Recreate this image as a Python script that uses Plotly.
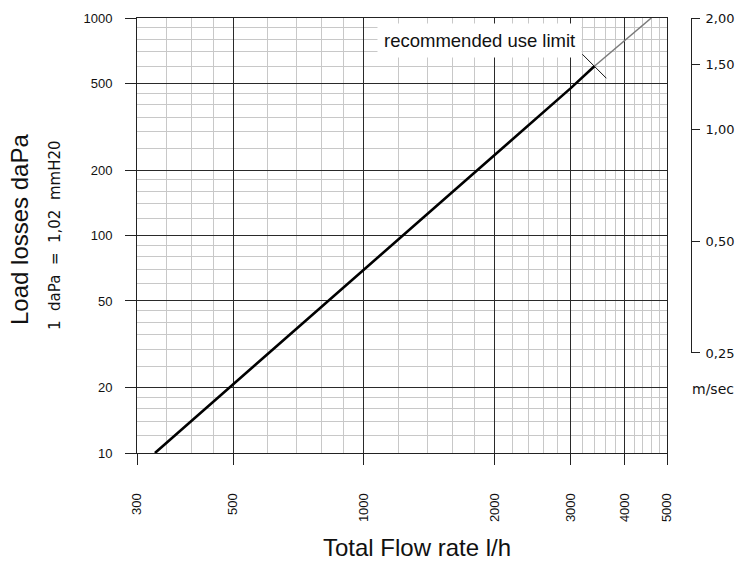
import math
import plotly.graph_objects as go

# ---- data ----
flow_recommended = [330, 500, 1000, 2000, 3000, 3400]      # l/h
loss_recommended = [10, 20.7, 70, 234, 476, 600]           # daPa
flow_beyond = [3400, 4600]
loss_beyond = [600, 1000]
limit_flow = [3400]
limit_loss = [600]

x_major_ticks = [300, 500, 1000, 2000, 3000, 4000, 5000]
x_major_text = ["300", "500", "1000", "2000", "3000", "4000", "5000"]
x_minor_ticks = [350, 400, 450, 600, 700, 800, 900, 1200, 1400, 1600, 1800,
                 2200, 2400, 2600, 2800, 3200, 3400, 3600, 3800,
                 4200, 4400, 4600, 4800]
y_major_ticks = [10, 20, 50, 100, 200, 500, 1000]
y_major_text = ["10", "20", "50", "100", "200", "500", "1000"]
y_minor_ticks = [12, 14, 16, 18, 25, 30, 35, 40, 45, 60, 70, 80, 90,
                 120, 140, 160, 180, 250, 300, 350, 400, 450,
                 600, 700, 800, 900]
velocity_ticks = [0.25, 0.5, 1.0, 1.5, 2.0]
velocity_text = ["0,25", "0,50", "1,00", "1,50", "2,00"]

MAIN = "Liberation Sans, Arial, sans-serif"
TECH = "DejaVu Sans, sans-serif"
DARK = "#222222"
MINOR = "#c8c8c8"
X_DOMAIN = [0, 530 / 554]

fig = go.Figure()
fig.add_trace(go.Scatter(x=flow_beyond, y=loss_beyond, mode="lines",
                         line=dict(color="#7a7a7a", width=1.5),
                         hoverinfo="skip", showlegend=False))
fig.add_trace(go.Scatter(x=flow_recommended, y=loss_recommended, mode="lines",
                         line=dict(color="#000000", width=2.6),
                         hoverinfo="skip", showlegend=False))
fig.add_trace(go.Scatter(x=limit_flow, y=limit_loss, mode="markers",
                         marker=dict(symbol="line-nw-open", size=24,
                                     color="#111111",
                                     line=dict(color="#111111", width=1)),
                         hoverinfo="skip", showlegend=False))
# invisible carrier trace for the velocity axis (own hidden x axis)
fig.add_trace(go.Scatter(x=[flow_recommended[0]], y=[velocity_ticks[0]],
                         xaxis="x2", yaxis="y2", mode="markers",
                         marker=dict(opacity=0, size=1),
                         hoverinfo="skip", showlegend=False))

fig.update_layout(
    width=736, height=561,
    margin=dict(l=137, r=45, t=18, b=108, autoexpand=False),
    paper_bgcolor="white",
    plot_bgcolor="rgba(0,0,0,0)",
    font=dict(family=MAIN, color="#111111"),
    xaxis=dict(
        type="log",
        domain=X_DOMAIN,
        range=[math.log10(300), math.log10(5000)],
        tickmode="array", tickvals=x_major_ticks, ticktext=x_major_text,
        tickangle=-90, ticks="outside", ticklen=11, tickcolor=DARK,
        ticklabelstandoff=23,
        tickfont=dict(family=MAIN, size=13, color="#111111"),
        showgrid=True, gridcolor="#2a2a2a", gridwidth=1,
        minor=dict(tickmode="array", tickvals=x_minor_ticks, showgrid=True,
                   gridcolor=MINOR, gridwidth=1, ticks=""),
        showline=True, linecolor=DARK, linewidth=1, mirror=True,
        zeroline=False, automargin=False,
    ),
    xaxis2=dict(
        type="log", domain=X_DOMAIN, anchor="y2",
        range=[math.log10(300), math.log10(5000)],
        visible=False, showgrid=False, zeroline=False,
    ),
    yaxis=dict(
        type="log",
        domain=[0, 1],
        range=[1, 3],
        tickmode="array", tickvals=y_major_ticks, ticktext=y_major_text,
        ticks="outside", ticklen=11, tickcolor=DARK,
        ticklabelstandoff=10,
        tickfont=dict(family=MAIN, size=13, color="#111111"),
        showgrid=True, gridcolor="#2a2a2a", gridwidth=1,
        minor=dict(tickmode="array", tickvals=y_minor_ticks, showgrid=True,
                   gridcolor=MINOR, gridwidth=1, ticks=""),
        showline=True, linecolor=DARK, linewidth=1, mirror=True,
        zeroline=False, automargin=False,
    ),
    yaxis2=dict(
        type="log",
        domain=[100 / 435, 1],
        range=[math.log10(0.2499), math.log10(2.0002)],
        anchor="free", position=1, side="right",
        tickmode="array", tickvals=velocity_ticks, ticktext=velocity_text,
        ticks="outside", ticklen=8, tickcolor=DARK,
        ticklabelstandoff=3,
        tickfont=dict(family=TECH, size=13, color="#111111"),
        showgrid=False, zeroline=False,
        showline=True, linecolor=DARK, linewidth=1, automargin=False,
    ),
    annotations=[
        dict(text="recommended use limit", xref="paper", yref="paper",
             x=(479 - 137) / 554, y=(453 - 40.8) / 435,
             xanchor="center", yanchor="middle", showarrow=False,
             font=dict(family=MAIN, size=18.5, color="#111111"),
             bgcolor="white", borderpad=6),
        dict(text="Load losses daPa", xref="paper", yref="paper",
             x=(19 - 137) / 554, y=(453 - 230) / 435, textangle=-90,
             xanchor="center", yanchor="middle", showarrow=False,
             font=dict(family=MAIN, size=24, color="#111111")),
        dict(text="1\u00a0\u00a0daPa\u00a0\u00a0=\u00a0\u00a01,02\u00a0\u00a0mmH20",
             xref="paper", yref="paper",
             x=(55 - 137) / 554, y=(453 - 235) / 435, textangle=-90,
             xanchor="center", yanchor="middle", showarrow=False,
             font=dict(family=TECH, size=15, color="#111111")),
        dict(text="Total Flow rate l/h", xref="paper", yref="paper",
             x=(416.5 - 137) / 554, y=(453 - 547) / 435,
             xanchor="center", yanchor="middle", showarrow=False,
             font=dict(family=MAIN, size=24, color="#111111")),
        dict(text="m/sec", xref="paper", yref="paper",
             x=(713 - 137) / 554, y=(453 - 389) / 435,
             xanchor="center", yanchor="middle", showarrow=False,
             font=dict(family=TECH, size=14, color="#111111")),
    ],
)

fig.write_html("out.html")
